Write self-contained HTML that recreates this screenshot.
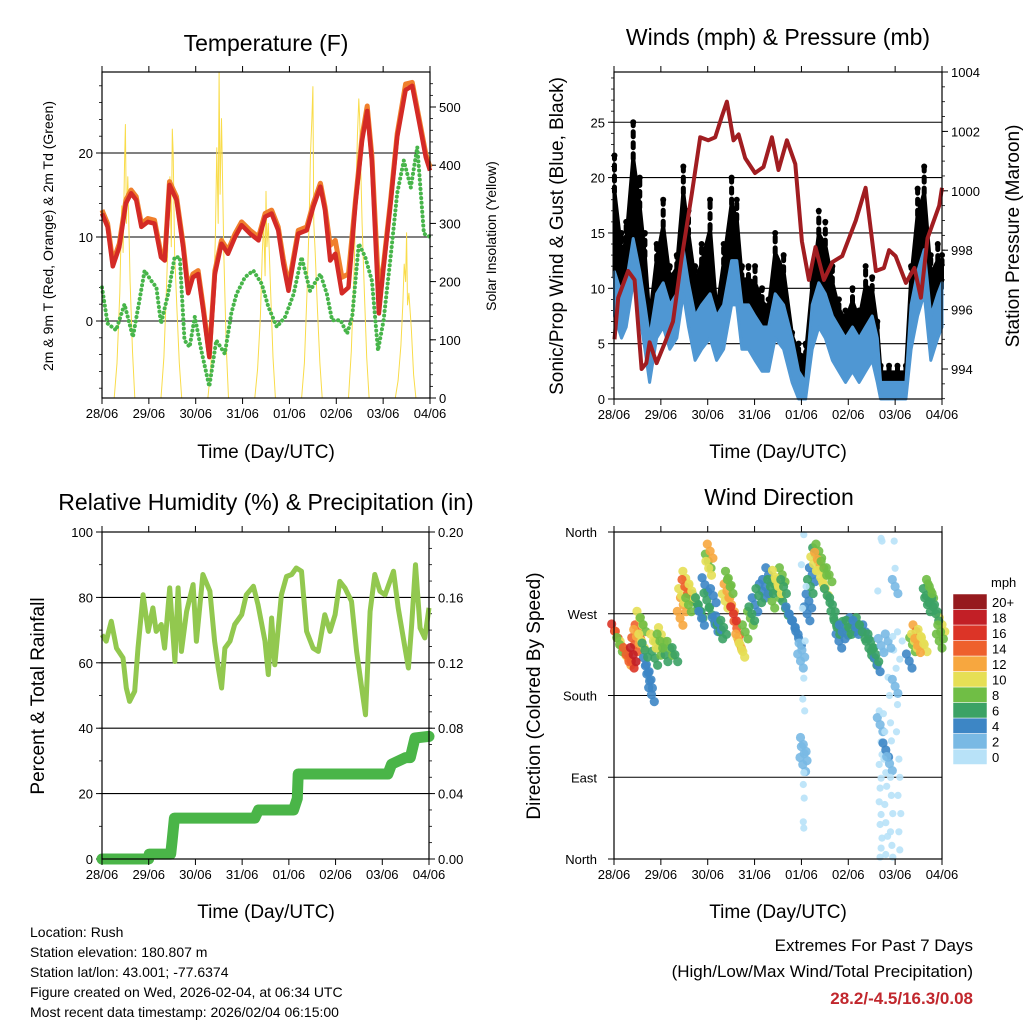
<!DOCTYPE html>
<html><head><meta charset="utf-8"><style>
html,body{margin:0;padding:0;background:#fff;}
svg{display:block;font-family:"Liberation Sans",sans-serif;}
</style></head><body>
<svg id="chart" width="1024" height="1024" viewBox="0 0 1024 1024" xmlns="http://www.w3.org/2000/svg">
<g font-size="23" text-anchor="middle" fill="#000">
<text x="266" y="51">Temperature (F)</text>
<text x="778" y="45">Winds (mph) &amp; Pressure (mb)</text>
<text x="266" y="510">Relative Humidity (%) &amp; Precipitation (in)</text>
<text x="779" y="505">Wind Direction</text>
</g>
<g font-size="19" text-anchor="middle">
<text x="266" y="458">Time (Day/UTC)</text>
<text x="778" y="458">Time (Day/UTC)</text>
<text x="266" y="918">Time (Day/UTC)</text>
<text x="778" y="918">Time (Day/UTC)</text>
<text font-size="14" transform="translate(53,236) rotate(-90)">2m &amp; 9m T (Red, Orange) &amp; 2m Td (Green)</text>
<text font-size="14" transform="translate(496,236) rotate(-90)">Solar Insolation (Yellow)</text>
<text transform="translate(563,236) rotate(-90)">Sonic/Prop Wind &amp; Gust (Blue, Black)</text>
<text transform="translate(1019,236) rotate(-90)">Station Pressure (Maroon)</text>
<text transform="translate(44,696) rotate(-90)">Percent &amp; Total Rainfall</text>
<text transform="translate(540,696) rotate(-90)">Direction (Colored By Speed)</text>
</g>
<g font-size="14">
<text x="30" y="937">Location: Rush</text>
<text x="30" y="957">Station elevation: 180.807 m</text>
<text x="30" y="977">Station lat/lon: 43.001; -77.6374</text>
<text x="30" y="997">Figure created on Wed, 2026-02-04, at 06:34 UTC</text>
<text x="30" y="1017">Most recent data timestamp: 2026/02/04 06:15:00</text>
</g>
<g font-size="17" text-anchor="end">
<text x="973" y="951">Extremes For Past 7 Days</text>
<text x="973" y="977">(High/Low/Max Wind/Total Precipitation)</text>
<text x="973" y="1004" fill="#c1272d" font-weight="bold">28.2/-4.5/16.3/0.08</text>
</g>
</svg>
<script>
// ---------- DATA ----------
const dayLabels=['28/06','29/06','30/06','31/06','01/06','02/06','03/06','04/06'];
const tempTicks=[0,10,20];
const solarTicks=[0,100,200,300,400,500];
const redT=[0,0.12,0.23,0.37,0.51,0.62,0.73,0.84,0.98,1.12,1.26,1.34,1.44,1.59,1.73,1.84,1.94,2.05,2.16,2.29,2.41,2.55,2.69,2.84,2.98,3.16,3.34,3.48,3.62,3.76,3.87,3.98,4.09,4.19,4.37,4.51,4.66,4.76,4.87,4.98,5.12,5.26,5.41,5.55,5.66,5.76,5.91,6.01,6.16,6.3,6.48,6.62,6.76,6.91,7.0];
const redV=[12.8,11.2,6.5,8.8,14,15.2,14.4,11.2,11.8,11.6,7.6,7.2,16.2,14.4,8.8,3.3,5.2,5.6,1.3,-4.3,5.6,9.2,8,10,11.4,10.4,9.6,12.4,12.8,10.8,6.8,3.6,7.2,10.4,10.8,13.6,16,13.2,7.2,8,3.3,4,14,21.5,25,19,0.9,6.4,14,21.9,27.5,28,23.9,19.5,17.9];
const orangeV=[13.2,11.6,7,9.2,14.4,15.6,14.8,11.6,12.2,12,8,7.6,16.6,14.8,9.2,3.8,5.6,6,1.7,-4,6,9.6,8.4,10.4,11.8,10.8,10,12.8,13.2,11.2,7.4,4.2,7.6,10.8,11.2,14,16.4,13.6,9,9.6,5.2,5.6,14.4,22,25.6,19.6,3.3,6.8,14.4,22.3,28.2,28.4,24.3,19.9,18.3];
const dewT=[0,0.12,0.3,0.48,0.66,0.8,0.91,1.05,1.16,1.26,1.41,1.55,1.66,1.76,1.87,1.98,2.12,2.29,2.44,2.62,2.76,2.87,3.05,3.23,3.41,3.55,3.73,3.91,4.09,4.26,4.44,4.66,4.8,4.91,5.09,5.23,5.34,5.48,5.62,5.76,5.89,6.01,6.16,6.3,6.44,6.59,6.73,6.87,7.0];
const dewV=[4,-0.3,-1.1,2,-1.9,2.5,6,4.8,4,-0.3,3.2,7.6,7.6,-2.3,-3.1,0.5,-3.5,-7.8,-2.3,-3.9,0.9,3.2,5.2,6,4.4,1.7,-0.7,0.5,3.2,7.6,3.6,5.6,3.2,0.1,0.1,-1.5,0.5,9.2,7.6,4.8,-3.5,0.1,7.6,15.2,19.1,15.9,20.7,10.4,10];
const solarOffsets=[0.26,0.32,0.38,0.42,0.45,0.48,0.5,0.52,0.55,0.6,0.65,0.7];
const solarDay0=[0,60,180,330,250,400,470,300,380,200,80,0];
const solarDay1=[0,70,200,300,380,260,462,420,250,150,60,0];
const solarDay2=[0,50,150,280,430,300,560,350,480,250,90,0];
const solarDay3=[0,50,140,250,300,210,355,260,300,180,70,0];
const solarDay4=[0,60,190,300,420,480,535,300,250,150,60,0];
const solarDay5=[0,80,220,350,450,514,480,400,300,180,70,0];
const solarDay6=[0,30,90,160,230,200,284,160,180,120,40,0];

const windTicks=[0,5,10,15,20,25];
const pressTicks=[994,996,998,1000,1002,1004];
const windT=[0.01,0.16,0.26,0.41,0.55,0.66,0.76,0.91,1.05,1.19,1.34,1.48,1.59,1.73,1.87,2.05,2.19,2.34,2.51,2.62,2.73,2.87,3.01,3.16,3.3,3.44,3.62,3.8,3.94,4.09,4.23,4.37,4.51,4.66,4.8,4.94,5.09,5.23,5.37,5.51,5.62,5.69,5.87,6.05,6.23,6.34,6.48,6.62,6.76,6.91,7.0];
const windV=[11,9,10,14,11,8,5,9,10,8,9,13,10,7,8,9,7,8,12,12,8,8,7,6,6,9,8,5,2,1,8,10,9,7,6,5,6,5,6,7,5,1,1,1,1,8,11,13,7,9,10];
const gustV=[22,15,16,25,20,15,8,14,18,12,13,21,17,12,14,18,8,14,20,18,12,12,12,10,9,15,13,6,5,5,11,17,16,12,9,8,10,8,12,11,7,3,3,3,3,12,19,21,13,14,13];
const pressT=[0.01,0.09,0.3,0.44,0.59,0.69,0.76,0.91,1.09,1.26,1.44,1.66,1.84,2.01,2.16,2.3,2.41,2.55,2.66,2.8,3.01,3.19,3.37,3.51,3.69,3.87,4.01,4.16,4.3,4.48,4.66,4.87,5.16,5.37,5.59,5.76,5.87,6.01,6.23,6.41,6.55,6.69,6.94,7.0];
const pressV=[995.0,996.4,997.3,997.0,994.0,994.2,994.9,994.2,994.9,995.6,997.7,999.9,1001.8,1001.7,1001.8,1002.5,1003.0,1001.7,1001.9,1001.1,1000.6,1000.8,1001.8,1000.7,1001.7,1000.9,998.3,997.0,998.1,997.0,997.6,997.8,999.0,1000.1,997.3,997.4,998.0,997.8,996.9,997.4,996.4,998.4,999.5,1000.1];

const rhTicks=[0,20,40,60,80,100];
const precipTicks=['0.00','0.04','0.08','0.12','0.16','0.20'];
const rhT=[0,0.09,0.2,0.31,0.45,0.52,0.59,0.7,0.77,0.88,0.99,1.09,1.16,1.27,1.34,1.45,1.56,1.63,1.7,1.81,1.95,2.02,2.16,2.31,2.41,2.49,2.56,2.63,2.74,2.84,2.99,3.09,3.24,3.34,3.49,3.56,3.63,3.7,3.84,3.95,4.06,4.16,4.27,4.38,4.52,4.63,4.77,4.88,4.99,5.09,5.2,5.34,5.45,5.56,5.64,5.74,5.84,5.95,6.06,6.24,6.34,6.45,6.56,6.63,6.71,6.81,6.91,7.0];
const rhV=[68.6,66.6,72.7,64.5,61.5,52.3,48.2,51.3,64.5,80.8,69.6,76.8,69.6,71.7,64.5,82.9,60.4,82.9,63.5,75.7,83.9,66.6,87,81.9,66.6,58.4,52.3,64.5,66.6,71.7,74.7,80.8,83.4,77.8,66.6,56.4,73.7,59.4,80.8,86.4,87,89,88,69.6,64.5,63.5,74.7,69.6,74.7,84.9,82.9,78.8,63.5,52.3,44.1,75.7,87,81.9,80.8,88,76.8,67.6,58.4,71.7,90,70.6,67.6,76.8];
const precipT=[0,1.0,1.01,1.47,1.5,1.55,3.27,3.35,4.1,4.18,4.2,6.12,6.2,6.5,6.6,6.7,7.0];
const precipV=[0,0,0.003,0.003,0.011,0.025,0.025,0.03,0.03,0.037,0.052,0.052,0.058,0.062,0.062,0.074,0.075];

const dirLabels=['North','East','South','West','North'];
const dirT=[0.01,0.09,0.19,0.3,0.37,0.44,0.51,0.55,0.62,0.69,0.76,0.8,0.87,0.94,1.01,1.09,1.19,1.3,1.41,1.48,1.53,1.62,1.73,1.84,1.94,2.01,2.05,2.09,2.16,2.26,2.37,2.44,2.51,2.62,2.69,2.8,2.91,3.01,3.16,3.3,3.37,3.48,3.59,3.66,3.8,3.94,3.98,4.16,4.23,4.3,4.37,4.44,4.51,4.59,4.69,4.8,4.94,5.09,5.23,5.37,5.44,5.55,5.62,6.3,6.37,6.44,6.51,6.62,6.69,6.76,6.84,6.94,7.0,
0.12,0.26,0.41,0.48,0.59,0.66,0.73,0.84,0.98,1.44,1.51,1.59,1.66,1.8,1.87,1.98,2.02,2.12,2.23,2.34,2.41,2.48,2.55,2.66,2.73,2.94,3.09,3.23,3.34,3.44,3.51,3.62,3.73,3.87,4.01,4.12,4.19,4.26,4.34,4.41,4.48,4.55,4.66,4.76,4.87,5.01,5.16,5.3,5.48,5.59,6.41,6.48,6.55,6.66,6.73,6.87,6.97,
4.0,4.02,4.05,4.03,4.07,4.04,4.06,4.03,4.05,4.04,4.06,4.04,4.05,4.05,4.1,4.08,
5.66,5.68,5.7,5.72,5.66,5.7,5.68,5.66,5.7,5.68,5.72,5.7,5.68,5.7,5.72,5.63,5.75,5.78,5.8,5.76,5.8,5.82,5.78,5.8,5.84,5.8,5.85,5.88,5.9,5.92,5.88,5.9,5.92,5.95,5.9,5.93,5.95,5.98,6.0,5.97,6.02,6.0,6.05,6.03,6.08,6.1,6.06,6.12,6.08,6.1,6.05,6.1,6.15,6.0,5.85,5.95,5.75,5.7];
const dirDeg=[251,243,232,221,218,236,250,265,258,214,196,181,221,232,247,225,232,225,265,280,309,291,284,273,302,328,339,269,258,250,284,309,280,254,236,250,265,280,295,313,284,295,313,276,262,243,218,284,313,335,339,320,298,313,265,240,254,258,258,250,232,221,214,218,236,250,243,236,280,295,280,240,258,
236,225,225,245,240,230,205,240,240,290,300,280,295,280,265,285,320,290,260,255,295,300,270,240,230,270,290,300,300,310,300,300,270,255,230,270,300,325,330,310,320,290,280,255,250,255,255,250,240,225,240,235,245,290,300,270,250,
324,276,199,176,163,126,116,104,95,82,67,41,34,357,300,240,
163,148,129,115,104,89,78,63,49,38,23,12,2,353,350,295,160,140,120,110,95,80,60,40,25,5,200,180,150,130,105,90,70,50,30,15,2,350,320,230,210,190,170,140,110,90,70,50,30,10,250,220,240,300,240,245,230,235];
const dirSpd=[16,14,10,12,16,14,14,10,8,4,4,4,6,8,10,6,8,6,12,12,10,12,6,6,4,8,12,6,4,6,10,8,12,14,10,8,8,4,4,4,8,8,8,6,4,4,2,4,4,6,8,10,10,8,6,4,6,4,6,4,6,6,4,4,8,12,14,10,6,8,6,8,10,
8,14,18,12,10,6,4,10,8,10,14,8,10,6,4,6,10,4,4,6,12,8,16,12,10,6,6,4,6,10,10,6,4,4,2,4,6,10,12,10,8,6,6,6,4,6,4,6,6,6,10,12,10,6,8,6,8,
1,1,1,1,1,3,3,3,1,1,1,1,1,1,1,1,
1,3,1,1,1,1,1,1,1,1,1,1,1,1,1,1,1,1,4,1,1,1,1,1,1,1,1,1,1,1,3,1,1,1,1,1,1,1,1,1,1,2,1,1,1,1,1,1,1,1,1,1,1,2,2,1,1,2];
const speedLabels=['0','2','4','6','8','10','12','14','16','18','20+'];
const speedColors=['#b8e2f8','#79b9e4','#3d86c5','#3ba265','#70be45','#e6df55','#f7a73f','#ee602d','#dc3427','#c21f26','#961a1e'];

// ---------- HELPERS ----------
const NS='http://www.w3.org/2000/svg';
const svg=document.getElementById('chart');
function mk(tag,attrs,parent){const e=document.createElementNS(NS,tag);for(const k in attrs)e.setAttribute(k,attrs[k]);(parent||svg).appendChild(e);return e;}
function group(name){const g=mk('g',{});


return g;}
function pathFrom(ts,vs,xf,yf){return ts.map((t,i)=>(i?'L':'M')+xf(t).toFixed(1)+','+yf(vs[i]).toFixed(1)).join('');}

function frame(p,name){
  const g=group(name+'-frame');
  for(let i=0;i<=7;i++){
    const x=p.x0+(p.x1-p.x0)*i/7;
    const t1=mk('line',{x1:x,x2:x,y1:p.y1,y2:p.y1+6,stroke:'#000','stroke-width':1},g);
    
    
    const t2=mk('line',{x1:x,x2:x,y1:p.y0,y2:p.y0-6,stroke:'#000','stroke-width':1},g);
    
    
    const lb=mk('text',{x:x,y:p.y1+20,'font-size':13,'text-anchor':'middle'},g);
    lb.textContent=dayLabels[i];
    
    
  }
  const r=mk('rect',{x:p.x0,y:p.y0,width:p.x1-p.x0,height:p.y1-p.y0,fill:'none',stroke:'#000','stroke-width':1.2});
  
  
  return g;
}
function leftAxis(p,vals,labels,yf,grid,name,minorStep,minV,maxV){
  const g=group(name);
  vals.forEach((v,i)=>{
    const y=yf(v);
    if(grid){const gl=mk('line',{x1:p.x0,x2:p.x1,y1:y,y2:y,stroke:'#000','stroke-width':1.1},g);
      
      }
    const tk=mk('line',{x1:p.x0-6,x2:p.x0,y1:y,y2:y,stroke:'#000'},g);
    
    
    const lb=mk('text',{x:p.x0-9,y:y+5,'font-size':13,'text-anchor':'end'},g);
    lb.textContent=labels[i];
    
    
  });
  if(minorStep){for(let v=minV;v<=maxV+1e-9;v+=minorStep){const y=yf(v);
    const mt=mk('line',{x1:p.x0-3,x2:p.x0,y1:y,y2:y,stroke:'#000','stroke-width':0.8},g);
    
    }}
}
function rightAxis(p,vals,labels,yf,name,minorStep,minV,maxV){
  const g=group(name);
  vals.forEach((v,i)=>{
    const y=yf(v);
    const tk=mk('line',{x1:p.x1,x2:p.x1+6,y1:y,y2:y,stroke:'#000'},g);
    
    
    const lb=mk('text',{x:p.x1+9,y:y+5,'font-size':13,'text-anchor':'start'},g);
    lb.textContent=labels[i];
    
    
  });
  if(minorStep){for(let v=minV;v<=maxV+1e-9;v+=minorStep){const y=yf(v);
    const mt=mk('line',{x1:p.x1,x2:p.x1+3,y1:y,y2:y,stroke:'#000','stroke-width':0.8},g);
    
    }}
}

// ---------- PANEL 1: TEMPERATURE ----------
const P1={x0:102,x1:430,y0:72,y1:398};
const x1f=d=>P1.x0+d*(P1.x1-P1.x0)/7;
const yT=v=>321-v*8.4;
const yS=v=>398-v*0.582;
leftAxis(P1,tempTicks,tempTicks.map(String),yT,true,'temp-left-axis',2,-8,28);
rightAxis(P1,solarTicks,solarTicks.map(String),yS,'solar-right-axis',20,0,540);
{
  const g=group('temperature-series');
  const solarDays=[solarDay0,solarDay1,solarDay2,solarDay3,solarDay4,solarDay5,solarDay6];
  solarDays.forEach((arr,d)=>{
    const ts=solarOffsets.map(o=>d+o);
    const sp=mk('path',{d:pathFrom(ts,arr,x1f,yS),fill:'none',stroke:'#f9dc4a','stroke-width':1,'stroke-linejoin':'round'},g);
    
    
  });
  const dw=mk('path',{d:pathFrom(dewT,dewV,x1f,yT),fill:'none',stroke:'#47b54a','stroke-width':4,'stroke-dasharray':'0.1 4.5','stroke-linecap':'round','stroke-linejoin':'round'},g);
  
  
  const or=mk('path',{d:pathFrom(redT,orangeV,x1f,yT),fill:'none',stroke:'#f07f2c','stroke-width':5,'stroke-linejoin':'round'},g);
  
  
  const rd=mk('path',{d:pathFrom(redT,redV,x1f,yT),fill:'none',stroke:'#d42a26','stroke-width':4.5,'stroke-linejoin':'round'},g);
  
  
}
frame(P1,'temperature');

// ---------- PANEL 2: WINDS ----------
const P2={x0:614,x1:942,y0:72,y1:399};
const x2f=d=>P2.x0+d*(P2.x1-P2.x0)/7;
const yW=v=>399-v*11.07;
const yP=p=>369-(p-994)*29.7;
leftAxis(P2,windTicks,windTicks.map(String),yW,true,'wind-left-axis',1,0,29);
rightAxis(P2,pressTicks,pressTicks.map(String),yP,'pressure-right-axis',0.5,993,1004);
{
  const g=group('wind-series');
  // black gust cloud: filled area from wind to 70% of the way to gust
  const midV=windV.map((w,i)=>w+(gustV[i]-w)*0.7);
  const up=windT.map((t,i)=>x2f(t).toFixed(1)+','+yW(midV[i]).toFixed(1));
  const dn=windT.map((t,i)=>x2f(t).toFixed(1)+','+yW(windV[i]).toFixed(1)).reverse();
  const ga=mk('path',{d:'M'+up.join('L')+'L'+dn.join('L')+'Z',fill:'#000',stroke:'#000','stroke-width':4,'stroke-linejoin':'round'},g);
  
  
  windT.forEach((t,i)=>{
    const x=x2f(t);
    const bl=mk('line',{x1:x,x2:x,y1:yW(midV[i]),y2:yW(gustV[i]),stroke:'#000','stroke-width':5,'stroke-dasharray':'5 6','stroke-linecap':'round'},g);
    
    
    const c=mk('circle',{cx:x,cy:yW(gustV[i]),r:3,fill:'#000'},g);
    
    
  });
  const lowV=windV.map(w=>Math.max(0,w-3.5));
  const bu=windT.map((t,i)=>x2f(t).toFixed(1)+','+yW(windV[i]+0.5).toFixed(1));
  const bd=windT.map((t,i)=>x2f(t).toFixed(1)+','+yW(lowV[i]).toFixed(1)).reverse();
  const ba=mk('path',{d:'M'+bu.join('L')+'L'+bd.join('L')+'Z',fill:'#4f97d3',stroke:'#4f97d3','stroke-width':3,'stroke-linejoin':'round'},g);
  
  
  const pl=mk('path',{d:pathFrom(pressT,pressV,x2f,yP),fill:'none',stroke:'#a11d21','stroke-width':4,'stroke-linejoin':'round'},g);
  
  
}
frame(P2,'winds');

// ---------- PANEL 3: RH & PRECIP ----------
const P3={x0:102,x1:429,y0:532,y1:859};
const x3f=d=>P3.x0+d*(P3.x1-P3.x0)/7;
const yR=v=>859-v*3.27;
const yPr=v=>859-v/0.2*327;
leftAxis(P3,rhTicks,rhTicks.map(String),yR,false,'rh-left-axis',10,0,100);
rightAxis(P3,precipTicks.map(Number),precipTicks,yPr,'precip-right-axis',0.01,0,0.2);
{
  const g=group('rh-grid');
  [20,40,60,80].forEach(v=>{const l=mk('line',{x1:P3.x0,x2:P3.x1,y1:yR(v),y2:yR(v),stroke:'#000','stroke-width':1.1},g);
    
    });
  const s=group('rh-series');
  const rl=mk('path',{d:pathFrom(rhT,rhV,x3f,yR),fill:'none',stroke:'#92c84f','stroke-width':5,'stroke-linejoin':'round'},s);
  
  
  const pr=mk('path',{d:pathFrom(precipT,precipV,x3f,yPr),fill:'none',stroke:'#4ab548','stroke-width':11,'stroke-linejoin':'round','stroke-linecap':'round'},s);
  
  
}
frame(P3,'humidity');

// ---------- PANEL 4: WIND DIRECTION ----------
const P4={x0:614,x1:942,y0:532,y1:859};
const x4f=d=>P4.x0+d*(P4.x1-P4.x0)/7;
const yD=deg=>859-deg/360*327;
{
  const g=group('direction-axis');
  [0,90,180,270,360].forEach((v,i)=>{
    const y=yD(v);
    if(i>0&&i<4){const l=mk('line',{x1:P4.x0,x2:P4.x1,y1:y,y2:y,stroke:'#000','stroke-width':1.1},g);
      
      }
    const tk=mk('line',{x1:P4.x0-6,x2:P4.x0,y1:y,y2:y,stroke:'#000'},g);
    
    
    const lb=mk('text',{x:P4.x0-17,y:y+5,'font-size':13,'text-anchor':'end'},g);
    lb.textContent=dirLabels[i];
    
    
  });
  const s=group('direction-points');
  dirT.forEach((t,i)=>{
    const bin=Math.min(10,Math.floor(dirSpd[i]/2));
    const cx=x4f(t), cy=yD(dirDeg[i]);
    const offs=dirSpd[i]>=2?[-7,0,7]:[0];
    offs.forEach(o=>{
      const c=mk('circle',{cx:(cx+o*0.4).toFixed(1),cy:(cy+o).toFixed(1),r:dirSpd[i]>=2?4.6:3.6,fill:speedColors[bin],'fill-opacity':0.9},s);
      
      
    });
  });
  const cb=group('speed-colorbar');
  const cbx=953,cbTop=594,cbH=15.5;
  const ttl=mk('text',{x:991,y:587,'font-size':13},cb);
  ttl.textContent='mph';
  
  
  speedLabels.forEach((lab,i)=>{
    const y=cbTop+(10-i)*cbH;
    const r=mk('rect',{x:cbx,y:y,width:34,height:cbH,fill:speedColors[i],stroke:'#fff','stroke-width':0.5},cb);
    
    
    const t=mk('text',{x:cbx+39,y:y+13,'font-size':13},cb);
    t.textContent=lab;
    
    
  });
}
frame(P4,'wind-direction');
</script>
</body></html>
